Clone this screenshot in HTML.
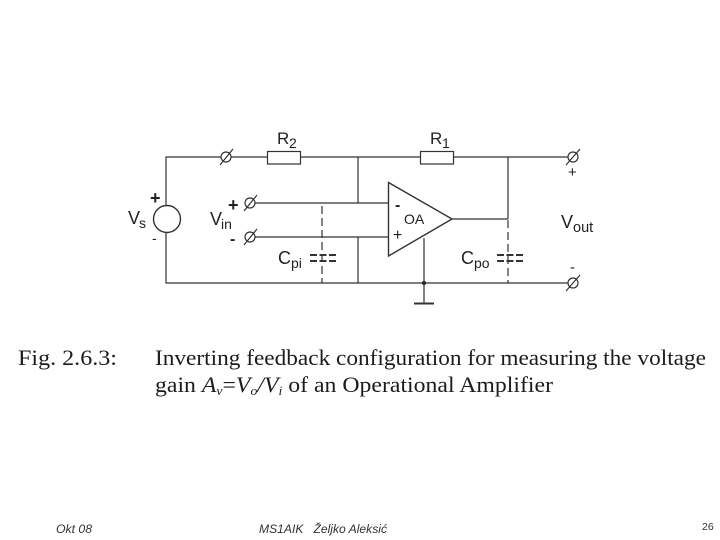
<!DOCTYPE html>
<html>
<head>
<meta charset="utf-8">
<style>
html,body{margin:0;padding:0;background:#fff;width:720px;height:540px;overflow:hidden}
svg{display:block}
.s{font-family:"Liberation Sans",sans-serif;fill:#222}
.t{font-family:"Liberation Serif",serif;fill:#1c1c1c;font-size:22.5px}
.f{font-family:"Liberation Sans",sans-serif;font-style:italic;font-size:12px;fill:#333}
</style>
</head>
<body>
<svg width="720" height="540" viewBox="0 0 720 540" xmlns="http://www.w3.org/2000/svg">
<rect width="720" height="540" fill="#fff"/>
<g fill="none" stroke="#333" stroke-width="1.200">
  <path d="M221 157H166V283H568"/>
  <path d="M231 157H267M301 157H420M454 157H568"/>
  <path d="M255 203H388M255 237H388" />
  <path d="M358 157V203M358 237V283"/>
  <path d="M508 157V219M452 219H508"/>
  <path d="M424 238V303"/>
  <rect x="267.500" y="151.500" width="33" height="12.500" fill="#fff"/>
  <rect x="420.500" y="151.500" width="33" height="12.500" fill="#fff"/>
  <circle cx="167" cy="219" r="13.500" fill="#fff" stroke-width="1.400"/>
  <path d="M388.500 182.500V256L452 219Z" fill="#fff" stroke-width="1.400"/>
  <path d="M414 303.500H434" stroke-width="2"/>
  <path d="M322 206V283M508 220V283" stroke-dasharray="8 4"/>
</g>
<g fill="#fff" stroke="#333" stroke-width="1.200">
  <circle cx="226" cy="157" r="5"/>
  <circle cx="250" cy="203" r="5"/>
  <circle cx="250" cy="237" r="5"/>
  <circle cx="573" cy="157" r="5"/>
  <circle cx="573" cy="283" r="5"/>
</g>
<g stroke="#333" stroke-width="1.200" fill="none">
  <path d="M220 165L233 149M244 211L257 195M244 245L257 229M566 165L580 149M566 291L580 275"/>
</g>
<g stroke="#333" stroke-width="2" stroke-dasharray="7 2.500" fill="none">
  <path d="M310 255H336M310 261H336M497 255H523M497 261H523"/>
</g>
<circle cx="424" cy="283" r="2" fill="#222"/>

<text class="s" x="277" y="144" font-size="17">R</text><text class="s" x="289" y="148" font-size="14">2</text>
<text class="s" x="430" y="144" font-size="17">R</text><text class="s" x="442" y="148" font-size="14">1</text>
<text class="s" x="128" y="224" font-size="18">V</text><text class="s" x="139" y="228" font-size="14">s</text>
<text class="s" x="210" y="225" font-size="18">V</text><text class="s" x="221" y="229" font-size="14">in</text>
<text class="s" x="561" y="228" font-size="18">V</text><text class="s" x="573" y="232" font-size="14.500">out</text>
<text class="s" x="278" y="264" font-size="18">C</text><text class="s" x="291" y="268" font-size="14">pi</text>
<text class="s" x="461" y="264" font-size="18">C</text><text class="s" x="474" y="268" font-size="14">po</text>
<text class="s" x="404" y="224" font-size="14">OA</text>
<text class="s" x="150" y="204" font-size="18" font-weight="bold">+</text>
<text class="s" x="152" y="243" font-size="14">-</text>
<text class="s" x="228" y="211" font-size="18" font-weight="bold">+</text>
<text class="s" x="230" y="244" font-size="16" font-weight="bold">-</text>
<text class="s" x="395" y="210" font-size="16" font-weight="bold">-</text>
<text class="s" x="393" y="240" font-size="16">+</text>
<text class="s" x="568" y="177" font-size="15">+</text>
<text class="s" x="570" y="272" font-size="15">-</text>

<text class="t" x="18" y="365" textLength="99" lengthAdjust="spacingAndGlyphs">Fig. 2.6.3:</text>
<text class="t" x="155" y="365" textLength="551" lengthAdjust="spacingAndGlyphs">Inverting feedback configuration for measuring the voltage</text>
<text class="t" x="155" y="392" textLength="398" lengthAdjust="spacingAndGlyphs">gain <tspan font-style="italic">A</tspan><tspan font-style="italic" font-size="13" dy="3">v</tspan><tspan dy="-3">=</tspan><tspan font-style="italic">V</tspan><tspan font-style="italic" font-size="13" dy="3">o</tspan><tspan dy="-3" font-style="italic">/V</tspan><tspan font-style="italic" font-size="13" dy="3">i</tspan><tspan dy="-3"> of an Operational Amplifier</tspan></text>

<text class="f" x="56" y="533" textLength="36" lengthAdjust="spacingAndGlyphs">Okt 08</text>
<text class="f" x="259" y="533" textLength="128" lengthAdjust="spacingAndGlyphs" xml:space="preserve">MS1AIK   Željko Aleksić</text>
<text class="f" x="702" y="530" style="font-style:normal;font-size:10.500px">26</text>
</svg>
</body>
</html>
